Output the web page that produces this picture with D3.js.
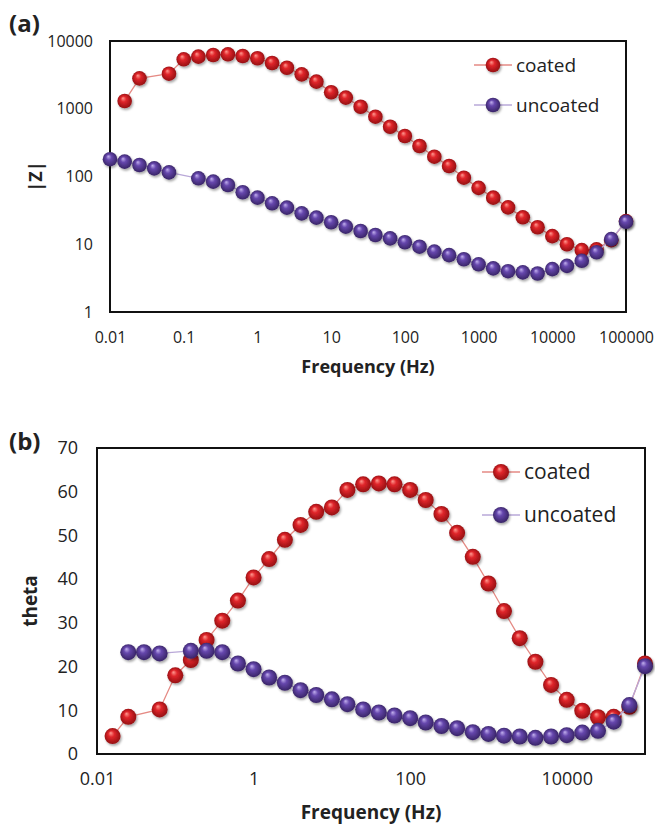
<!DOCTYPE html>
<html>
<head>
<meta charset="utf-8">
<script src="https://cdn.jsdelivr.net/npm/d3@7"></script>
<style>
  html, body { margin: 0; padding: 0; background: #fff; }
  svg text { font-family: "Open Sans", "Liberation Sans", sans-serif; fill: #222; }
</style>
</head>
<body>
<svg id="chart" width="655" height="827"></svg>
<script>
// frequencies (Hz), 5 points per decade
const freqs = [0.01, 0.0158, 0.0251, 0.0398, 0.0631, 0.1, 0.158, 0.251, 0.398, 0.631,
  1, 1.58, 2.51, 3.98, 6.31, 10, 15.8, 25.1, 39.8, 63.1,
  100, 158, 251, 398, 631, 1000, 1580, 2510, 3980, 6310,
  10000, 15800, 25100, 39800, 63100, 100000];

// (a) |Z|
const zCoated = [null, 1300, 2810, null, 3290, 5370, 5870, 6210, 6360, 6010,
  5560, 4730, 4030, 3220, 2510, 1750, 1460, 1070, 763, 543,
  396, 282, 196, 143, 96, 68, 48.7, 35, 25, 17.8,
  13.2, 10, 8.2, 8.4, 11.5, 22];
const zUncoated = [180, 166, 148, 132, 115, null, 94, 84, 75, 58.5,
  48.7, 40.2, 34.7, 28.6, 24.7, 21.1, 18.2, 15.7, 13.7, 12.2,
  10.7, 9.2, 7.8, 6.9, 6.0, 5.06, 4.4, 4.0, 3.85, 3.7,
  4.3, 4.8, 5.7, 7.6, 11.9, 21.5];

// (b) theta
const thetaCoated = [null, 4.1, 8.5, null, 10.2, 18.0, 21.5, 26.1, 30.5, 35.1,
  40.4, 44.6, 49.0, 52.4, 55.4, 56.4, 60.4, 61.7, 61.9, 61.7,
  60.4, 58.1, 54.9, 50.6, 45.1, 39.0, 32.7, 26.5, 21.1, 15.8,
  12.4, 9.9, 8.4, 8.5, 10.8, 20.7];
const thetaUncoated = [null, null, 23.3, 23.3, 23.0, null, 23.6, 23.6, 23.3, 20.7,
  19.4, 17.5, 16.3, 14.6, 13.5, 12.5, 11.4, 10.2, 9.5, 8.8,
  8.2, 7.2, 6.4, 5.9, 5.0, 4.6, 4.2, 4.0, 3.7, 4.0,
  4.3, 4.9, 5.3, 7.4, 11.2, 20.1];

const seriesNames = ["coated", "uncoated"];

const topXTicks = [0.01, 0.1, 1, 10, 100, 1000, 10000, 100000];
const topYTicks = [1, 10, 100, 1000, 10000];
const bottomXTicks = [0.01, 1, 100, 10000];
const bottomYTicks = [0, 10, 20, 30, 40, 50, 60, 70];

const svg = d3.select("#chart");

// ball-like marker gradients
const defs = svg.append("defs");
const balls = {
  coated: { id: "ballRed", stops: ["#ff9a90", "#e0262b", "#8c0c0f"], line: "#e58a84" },
  uncoated: { id: "ballPurple", stops: ["#c2b0ee", "#6647ad", "#33205e"], line: "#b9a8d8" }
};
Object.values(balls).forEach(b => {
  const g = defs.append("radialGradient")
    .attr("id", b.id)
    .attr("cx", "0.5").attr("cy", "0.5").attr("r", "0.55")
    .attr("fx", "0.38").attr("fy", "0.3");
  g.append("stop").attr("offset", "0%").attr("stop-color", b.stops[0]);
  g.append("stop").attr("offset", "35%").attr("stop-color", b.stops[1]);
  g.append("stop").attr("offset", "100%").attr("stop-color", b.stops[2]);
});
const shadow = defs.append("filter").attr("id", "shadow")
  .attr("x", "-50%").attr("y", "-50%").attr("width", "200%").attr("height", "200%");
shadow.append("feDropShadow")
  .attr("dx", 1.2).attr("dy", 1.8).attr("stdDeviation", 1.1)
  .attr("flood-color", "#000").attr("flood-opacity", 0.35);

function drawPanel(cfg) {
  const g = svg.append("g");

  const x = d3.scaleLog().domain([0.01, 100000]).range([cfg.left, cfg.right]);
  const y = cfg.logY
    ? d3.scaleLog().domain(cfg.yDomain).range([cfg.bottom, cfg.top])
    : d3.scaleLinear().domain(cfg.yDomain).range([cfg.bottom, cfg.top]);

  // y axis labels
  const yAxis = g.append("g")
    .attr("transform", `translate(${cfg.left},0)`)
    .call(d3.axisLeft(y).tickValues(cfg.yTicks).tickFormat(d => String(d))
      .tickSize(0).tickPadding(cfg.yPad));
  yAxis.select(".domain").remove();
  yAxis.selectAll("text")
    .style("font-family", "'Open Sans', sans-serif")
    .style("font-size", cfg.tickFont + "px")
    .attr("fill", "#222");

  const xAxis = g.append("g")
    .attr("transform", `translate(0,${cfg.bottom})`)
    .call(d3.axisBottom(x).tickValues(cfg.xTicks).tickFormat(d => String(d))
      .tickSize(0).tickPadding(cfg.xPad));
  xAxis.select(".domain").remove();
  xAxis.selectAll("text")
    .style("font-family", "'Open Sans', sans-serif")
    .style("font-size", cfg.tickFont + "px")
    .attr("fill", "#222");

  // plot frame
  g.append("rect")
    .attr("x", cfg.left).attr("y", cfg.top)
    .attr("width", cfg.right - cfg.left).attr("height", cfg.bottom - cfg.top)
    .attr("fill", "none").attr("stroke", "#111").attr("stroke-width", 2);

  // series
  const line = d3.line().x(d => x(d.f)).y(d => y(d.v));
  cfg.series.forEach((vals, i) => {
    const name = seriesNames[i];
    const pts = freqs.map((f, k) => ({ f, v: vals[k] })).filter(d => d.v != null);
    g.append("path")
      .attr("d", line(pts))
      .attr("fill", "none")
      .attr("stroke", balls[name].line)
      .attr("stroke-width", 1.3);
    g.append("g").selectAll("circle")
      .data(pts)
      .join("circle")
      .attr("cx", d => x(d.f))
      .attr("cy", d => y(d.v))
      .attr("r", cfg.r)
      .attr("fill", `url(#${balls[name].id})`)
      .attr("filter", "url(#shadow)");
  });

  // legend
  seriesNames.forEach((name, i) => {
    const ly = cfg.legY + i * cfg.legGap;
    g.append("line")
      .attr("x1", cfg.legX - 19).attr("x2", cfg.legX + 19)
      .attr("y1", ly).attr("y2", ly)
      .attr("stroke", balls[name].line).attr("stroke-width", 1.3);
    g.append("circle")
      .attr("cx", cfg.legX).attr("cy", ly).attr("r", cfg.r)
      .attr("fill", `url(#${balls[name].id})`)
      .attr("filter", "url(#shadow)");
    g.append("text")
      .attr("x", cfg.legX + 23).attr("y", ly)
      .attr("dy", "0.35em")
      .style("font-size", cfg.legFont + "px")
      .text(name);
  });

  // axis titles
  g.append("text")
    .attr("x", (cfg.left + cfg.right) / 2).attr("y", cfg.xTitleY)
    .attr("text-anchor", "middle")
    .style("font-size", cfg.titleFont + "px").style("font-weight", "bold")
    .text("Frequency (Hz)");
  g.append("text")
    .attr("transform", `translate(${cfg.yTitleX},${(cfg.top + cfg.bottom) / 2}) rotate(-90)`)
    .attr("text-anchor", "middle")
    .style("font-size", cfg.titleFont + "px").style("font-weight", "bold")
    .text(cfg.yTitle);

  // panel label
  g.append("text")
    .attr("x", 9).attr("y", cfg.labelY)
    .style("font-size", "24px").style("font-weight", "bold")
    .attr("fill", "#000")
    .text(cfg.label);
}

drawPanel({
  left: 110, right: 626, top: 41, bottom: 312,
  logY: true, yDomain: [1, 10000], yTicks: topYTicks, xTicks: topXTicks,
  series: [zCoated, zUncoated], r: 7.3,
  tickFont: 16, yPad: 17, xPad: 20, titleFont: 18,
  xTitleY: 373, yTitleX: 42, yTitle: "|Z|",
  legX: 493, legY: 65, legGap: 40, legFont: 19,
  label: "(a)", labelY: 32
});

drawPanel({
  left: 97, right: 645, top: 448, bottom: 754,
  logY: false, yDomain: [0, 70], yTicks: bottomYTicks, xTicks: bottomXTicks,
  series: [thetaCoated, thetaUncoated], r: 8,
  tickFont: 18, yPad: 19, xPad: 18, titleFont: 19,
  xTitleY: 819, yTitleX: 37, yTitle: "theta",
  legX: 501, legY: 472, legGap: 43, legFont: 21,
  label: "(b)", labelY: 450
});
</script>
</body>
</html>
